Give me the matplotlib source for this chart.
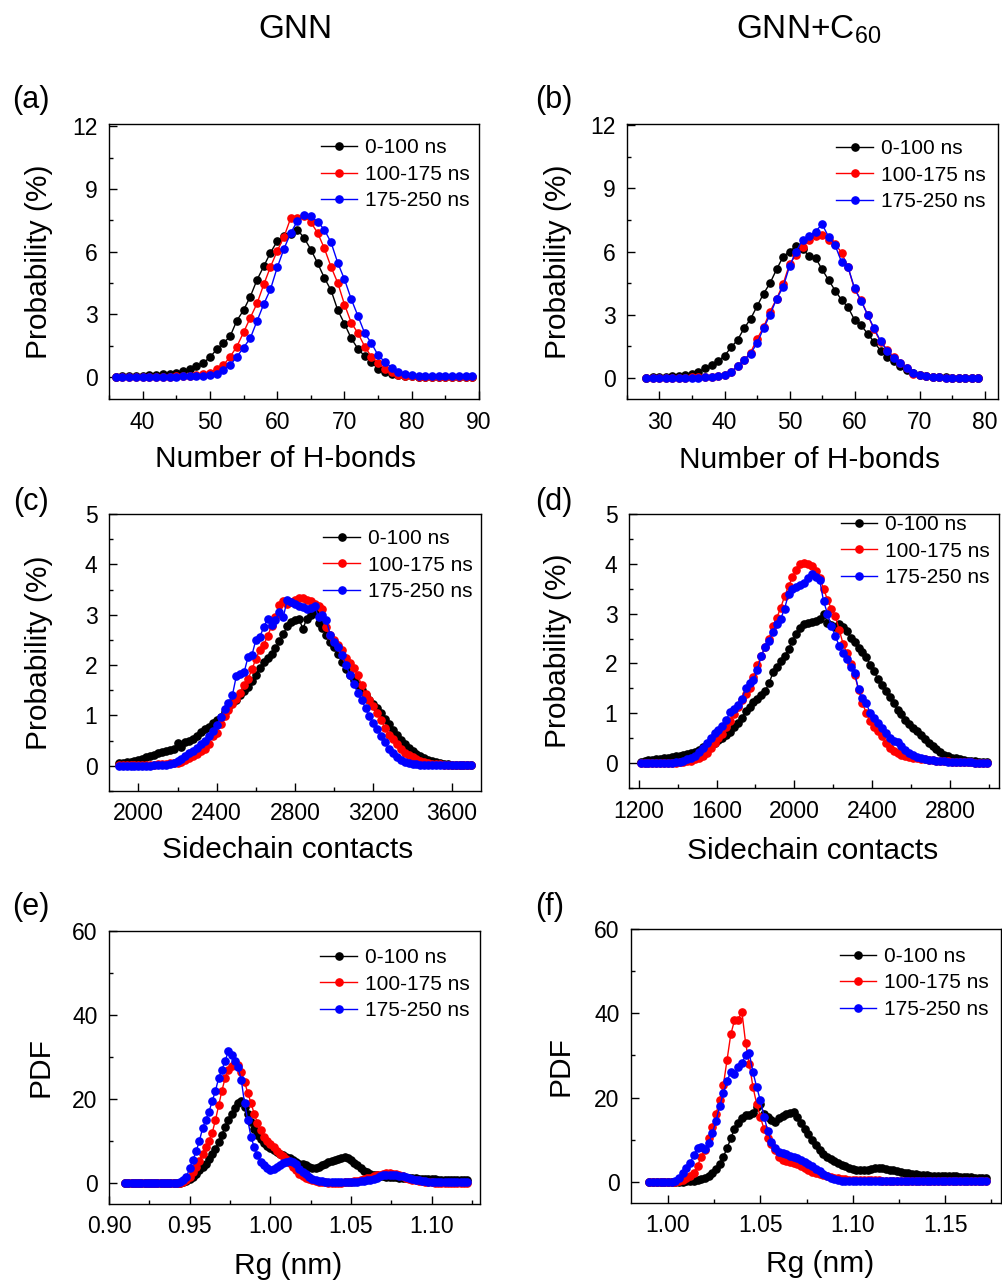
import numpy as np
import matplotlib
matplotlib.use("Agg")
import matplotlib.pyplot as plt
from matplotlib.ticker import MultipleLocator

plt.rcParams['font.family'] = ['Liberation Sans', 'DejaVu Sans']
plt.rcParams['mathtext.fontset'] = 'custom'
plt.rcParams['mathtext.rm'] = 'Liberation Sans'
plt.rcParams['mathtext.it'] = 'Liberation Sans:italic'

labels = ['0-100 ns', '100-175 ns', '175-250 ns']
colors = ['black', 'red', 'blue']

# (a) H-bonds, GNN  (x = 36 ... 89, step 1)
hb_gnn_start, hb_gnn_step = 36, 1
hb_gnn_0_100 = [0.02, 0.03, 0.04, 0.05, 0.06, 0.08, 0.1, 0.13, 0.16, 0.21,
                0.28, 0.39, 0.52, 0.68, 0.94, 1.33, 1.62, 1.95, 2.7, 3.2,
                3.85, 4.65, 5.3, 5.95, 6.5, 6.75, 6.85, 7.05, 6.65, 6.1,
                5.45, 4.75, 4.15, 3.2, 2.55, 1.85, 1.35, 1.0, 0.7, 0.4,
                0.25, 0.15, 0.08, 0.05, 0.03, 0.02, 0.02, 0.01, 0.01, 0.01,
                0.01, 0.01, 0.01, 0.01]
hb_gnn_100_175 = [0.01, 0.01, 0.01, 0.01, 0.01, 0.01, 0.02, 0.02, 0.02, 0.03,
                  0.04, 0.05, 0.1, 0.15, 0.2, 0.4, 0.57, 0.97, 1.46, 2.14,
                  2.84, 3.52, 4.43, 5.27, 6.03, 6.7, 7.6, 7.62, 7.7, 7.4,
                  6.9, 6.16, 5.27, 4.5, 3.47, 2.6, 2.1, 1.46, 0.97, 0.68,
                  0.4, 0.24, 0.11, 0.05, 0.03, 0.02, 0.01, 0.01, 0.01, 0.01,
                  0.01, 0.01, 0.01, 0.01]
hb_gnn_175_250 = [0.01, 0.01, 0.01, 0.01, 0.01, 0.01, 0.01, 0.01, 0.02, 0.02,
                  0.03, 0.04, 0.05, 0.06, 0.08, 0.16, 0.36, 0.57, 0.97, 1.41,
                  1.86, 2.68, 3.49, 4.2, 5.24, 6.13, 6.89, 7.46, 7.75, 7.7,
                  7.43, 7.05, 6.44, 5.46, 4.67, 3.73, 2.92, 2.1, 1.62, 1.04,
                  0.73, 0.45, 0.24, 0.13, 0.08, 0.06, 0.05, 0.05, 0.05, 0.05,
                  0.05, 0.05, 0.05, 0.05]

# (b) H-bonds, GNN+C60  (x = 28 ... 79, step 1)
hb_c60_start, hb_c60_step = 28, 1
hb_c60_0_100 = [0.02, 0.03, 0.04, 0.05, 0.07, 0.1, 0.12, 0.2, 0.3, 0.45,
                0.6, 0.8, 1.05, 1.45, 1.8, 2.35, 2.8, 3.4, 4.0, 4.5,
                5.15, 5.75, 6.0, 6.25, 6.1, 5.8, 5.7, 5.15, 4.65, 4.15,
                3.7, 3.35, 2.75, 2.5, 2.1, 1.7, 1.3, 1.0, 0.8, 0.55,
                0.4, 0.25, 0.15, 0.1, 0.06, 0.04, 0.03, 0.02, 0.01, 0.01,
                0.01, 0.01]
hb_c60_100_175 = [0.01, 0.01, 0.01, 0.01, 0.01, 0.02, 0.02, 0.03, 0.03, 0.04,
                  0.05, 0.08, 0.15, 0.3, 0.55, 0.85, 1.2, 1.85, 2.4, 3.15,
                  3.75, 4.45, 5.4, 5.85, 6.2, 6.55, 6.75, 6.8, 6.55, 6.35,
                  5.95, 5.25, 4.2, 3.7, 3.0, 2.3, 1.7, 1.35, 1.0, 0.7,
                  0.45, 0.2, 0.12, 0.08, 0.05, 0.03, 0.02, 0.02, 0.02, 0.02,
                  0.02, 0.02]
hb_c60_175_250 = [0.01, 0.01, 0.01, 0.01, 0.01, 0.01, 0.02, 0.02, 0.02, 0.03,
                  0.04, 0.07, 0.15, 0.3, 0.55, 0.85, 1.15, 1.65, 2.35, 3.0,
                  3.75, 4.3, 5.3, 6.0, 6.55, 6.75, 6.95, 7.3, 6.7, 6.3,
                  5.5, 5.25, 4.25, 3.65, 3.0, 2.35, 1.75, 1.3, 0.95, 0.7,
                  0.45, 0.25, 0.15, 0.1, 0.06, 0.04, 0.02, 0.02, 0.02, 0.02,
                  0.02, 0.02]

# (c) sidechain contacts, GNN  (x = 1900 ... 3700, step 20)
sc_gnn_start, sc_gnn_step = 1900, 20
sc_gnn_0_100 = [0.05, 0.06, 0.07, 0.08, 0.09, 0.12, 0.14, 0.17, 0.19, 0.22,
                0.25, 0.27, 0.3, 0.32, 0.34, 0.45, 0.38, 0.48, 0.5, 0.53,
                0.6, 0.68, 0.73, 0.78, 0.85, 0.9, 0.97, 1.07, 1.17, 1.24,
                1.3, 1.4, 1.48, 1.57, 1.68, 1.8, 1.95, 2.06, 2.14, 2.22,
                2.33, 2.47, 2.62, 2.77, 2.86, 2.9, 2.92, 2.72, 2.92, 2.99,
                3.03, 2.83, 2.73, 2.6, 2.45, 2.35, 2.22, 2.06, 1.93, 1.8,
                1.7, 1.6, 1.5, 1.4, 1.3, 1.22, 1.14, 1.04, 0.92, 0.82,
                0.72, 0.62, 0.52, 0.44, 0.36, 0.29, 0.24, 0.19, 0.15, 0.12,
                0.09, 0.07, 0.05, 0.04, 0.03, 0.02, 0.02, 0.01, 0.01, 0.01,
                0.01]
sc_gnn_100_175 = [0.01, 0.01, 0.01, 0.01, 0.01, 0.01, 0.01, 0.01, 0.02, 0.02,
                  0.03, 0.03, 0.04, 0.05, 0.05, 0.06, 0.08, 0.12, 0.15, 0.2,
                  0.24, 0.29, 0.33, 0.43, 0.6, 0.66, 0.83, 0.98, 1.1, 1.22,
                  1.33, 1.45, 1.6, 1.72, 1.92, 2.12, 2.3, 2.4, 2.58, 2.77,
                  2.95, 3.19, 3.27, 3.22, 3.25, 3.3, 3.34, 3.33, 3.3, 3.27,
                  3.22, 3.17, 3.12, 2.75, 2.6, 2.5, 2.4, 2.3, 2.15, 2.05,
                  1.95, 1.8, 1.6, 1.42, 1.3, 1.18, 1.05, 0.9, 0.75, 0.62,
                  0.53, 0.43, 0.34, 0.26, 0.21, 0.17, 0.13, 0.1, 0.07, 0.06,
                  0.04, 0.03, 0.03, 0.02, 0.02, 0.02, 0.01, 0.01, 0.01, 0.01,
                  0.01]
sc_gnn_175_250 = [0.0, 0.0, 0.0, 0.0, 0.0, 0.0, 0.0, 0.0, 0.0, 0.01,
                  0.01, 0.01, 0.02, 0.03, 0.05, 0.09, 0.14, 0.2, 0.25, 0.3,
                  0.36, 0.43, 0.5, 0.6, 0.7, 0.8, 0.97, 1.12, 1.25, 1.4,
                  1.78, 1.82, 1.86, 2.16, 2.2, 2.5, 2.56, 2.75, 2.92, 2.8,
                  2.9, 3.05, 2.95, 3.3, 3.25, 3.22, 3.18, 3.15, 3.12, 3.14,
                  3.17, 2.95, 3.0, 2.89, 2.6, 2.45, 2.35, 2.2, 2.0, 1.8,
                  1.62, 1.45, 1.3, 1.15, 0.98, 0.85, 0.73, 0.6, 0.47, 0.34,
                  0.25, 0.17, 0.12, 0.08, 0.06, 0.04, 0.03, 0.02, 0.01, 0.01,
                  0.01, 0.01, 0.01, 0.01, 0.01, 0.01, 0.01, 0.01, 0.01, 0.01,
                  0.01]

# (d) sidechain contacts, GNN+C60  (x = 1210 ... 2990, step 20)
sc_c60_start, sc_c60_step = 1210, 20
sc_c60_0_100 = [0.02, 0.04, 0.06, 0.07, 0.08, 0.09, 0.1, 0.11, 0.13, 0.14,
                0.15, 0.17, 0.18, 0.2, 0.22, 0.27, 0.32, 0.36, 0.38, 0.41,
                0.46, 0.51, 0.57, 0.62, 0.72, 0.8, 0.9, 1.05, 1.13, 1.22,
                1.29, 1.37, 1.45, 1.6, 1.82, 1.92, 2.05, 2.15, 2.28, 2.45,
                2.6, 2.72, 2.8, 2.82, 2.83, 2.85, 2.9, 3.0, 2.82, 2.77,
                2.74, 2.8, 2.74, 2.65, 2.52, 2.43, 2.32, 2.23, 2.13, 1.97,
                1.84, 1.68, 1.57, 1.45, 1.32, 1.2, 1.07, 0.99, 0.87, 0.79,
                0.71, 0.64, 0.56, 0.48, 0.41, 0.34, 0.28, 0.22, 0.17, 0.14,
                0.11, 0.1, 0.09, 0.06, 0.05, 0.04, 0.04, 0.03, 0.02, 0.02]
sc_c60_100_175 = [0.01, 0.01, 0.01, 0.01, 0.01, 0.01, 0.01, 0.01, 0.01, 0.01,
                  0.02, 0.02, 0.04, 0.05, 0.08, 0.11, 0.15, 0.2, 0.31, 0.41,
                  0.51, 0.59, 0.72, 0.85, 0.99, 1.13, 1.26, 1.38, 1.5, 1.73,
                  1.97, 2.15, 2.33, 2.5, 2.76, 2.92, 3.12, 3.35, 3.55, 3.73,
                  3.88, 3.99, 4.01, 3.99, 3.95, 3.86, 3.72, 3.5, 3.28, 3.1,
                  2.95, 2.68, 2.4, 2.2, 1.98, 1.77, 1.47, 1.2, 1.0, 0.84,
                  0.73, 0.64, 0.54, 0.4, 0.31, 0.25, 0.21, 0.17, 0.15, 0.13,
                  0.11, 0.1, 0.09, 0.08, 0.07, 0.06, 0.05, 0.05, 0.04, 0.04,
                  0.03, 0.03, 0.03, 0.02, 0.02, 0.02, 0.01, 0.01, 0.01, 0.01]
sc_c60_175_250 = [0.01, 0.01, 0.01, 0.01, 0.01, 0.01, 0.01, 0.01, 0.01, 0.02,
                  0.03, 0.05, 0.08, 0.11, 0.15, 0.22, 0.31, 0.41, 0.51, 0.6,
                  0.66, 0.74, 0.87, 1.02, 1.08, 1.17, 1.28, 1.5, 1.6, 1.66,
                  1.87, 2.15, 2.34, 2.45, 2.63, 2.8, 2.9, 3.1, 3.4, 3.5,
                  3.53, 3.57, 3.62, 3.72, 3.8, 3.73, 3.68, 3.25, 3.0, 2.75,
                  2.55, 2.36, 2.2, 2.08, 1.93, 1.8, 1.48, 1.3, 1.2, 1.0,
                  0.9, 0.8, 0.7, 0.6, 0.5, 0.45, 0.42, 0.34, 0.27, 0.2,
                  0.16, 0.13, 0.11, 0.09, 0.07, 0.06, 0.05, 0.05, 0.04, 0.03,
                  0.03, 0.03, 0.02, 0.02, 0.02, 0.02, 0.01, 0.01, 0.01, 0.01]

# (e) Rg, GNN  (x = 0.910 ... 1.122, step 0.002)
rg_gnn_start, rg_gnn_step = 0.910, 0.002
rg_gnn_0_100 = [0, 0, 0, 0, 0, 0, 0, 0, 0, 0,
                0, 0, 0, 0, 0, 0, 0, 0, 0.2, 0.5,
                0.9, 1.5, 2.2, 3.0, 3.8, 4.6, 5.6, 6.8, 8.2, 9.8,
                11.5, 13.3, 15.0, 16.5, 17.8, 19.0, 19.5, 18.0, 16.5, 14.5,
                12.8, 11.5, 10.5, 9.6, 8.9, 8.3, 7.8, 7.4, 7.0, 6.6,
                6.3, 5.9, 5.4, 5.0, 4.6, 4.4, 4.2, 3.9, 3.6, 3.6,
                3.9, 4.3, 4.6, 5.0, 5.3, 5.4, 5.8, 6.0, 6.1, 6.0,
                5.4, 4.8, 4.2, 3.5, 2.9, 2.5, 2.2, 2.0, 1.8, 1.7,
                1.6, 1.5, 1.5, 1.4, 1.4, 1.3, 1.3, 1.2, 1.2, 1.1,
                1.1, 1.0, 1.0, 1.0, 0.9, 0.9, 0.9, 0.8, 0.8, 0.8,
                0.8, 0.7, 0.7, 0.7, 0.7, 0.6, 0.6]
rg_gnn_100_175 = [0, 0, 0, 0, 0, 0, 0, 0, 0, 0,
                  0, 0, 0, 0, 0, 0, 0, 0, 0.3, 0.8,
                  1.5, 2.5, 3.8, 5.3, 7.0, 8.5, 10.0, 12.0, 15.0, 18.5,
                  22.0, 25.0, 27.0, 27.8, 28.3, 28.0, 26.5, 24.0, 21.5, 19.0,
                  16.5, 14.3, 12.5, 11.0, 10.0, 9.2, 8.5, 7.7, 7.0, 6.4,
                  5.8, 4.8, 3.8, 3.0, 2.2, 1.7, 1.3, 0.9, 0.6, 0.4,
                  0.3, 0.2, 0.2, 0.1, 0.1, 0.1, 0.1, 0.1, 0.2, 0.2,
                  0.3, 0.4, 0.5, 0.7, 0.9, 1.1, 1.3, 1.6, 1.8, 2.0,
                  2.2, 2.3, 2.3, 2.2, 2.1, 1.9, 1.6, 1.3, 1.0, 0.8,
                  0.6, 0.5, 0.4, 0.3, 0.2, 0.2, 0.1, 0.1, 0.1, 0.1,
                  0.1, 0.1, 0.1, 0.1, 0.1, 0.1, 0.1]
rg_gnn_175_250 = [0, 0, 0, 0, 0, 0, 0, 0, 0, 0,
                  0, 0, 0, 0, 0, 0, 0, 0.3, 0.8, 1.4,
                  3.6, 5.5, 7.5, 10.0, 13.0, 15.0, 17.0, 19.5, 22.0, 25.0,
                  27.0, 29.0, 31.5, 30.5, 29.0, 27.5, 24.5, 19.0, 15.0, 11.0,
                  8.5, 6.6, 5.0, 4.2, 3.6, 3.2, 3.3, 3.7, 4.2, 4.8,
                  5.1, 5.2, 5.0, 4.4, 3.4, 2.7, 2.1, 1.5, 1.0, 0.7,
                  0.5, 0.4, 0.3, 0.2, 0.2, 0.2, 0.2, 0.2, 0.2, 0.2,
                  0.2, 0.3, 0.3, 0.4, 0.5, 0.6, 0.8, 1.0, 1.3, 1.6,
                  1.8, 1.9, 1.9, 1.9, 1.8, 1.7, 1.6, 1.4, 1.2, 1.0,
                  0.8, 0.6, 0.5, 0.4, 0.3, 0.3, 0.2, 0.2, 0.2, 0.2,
                  0.2, 0.2, 0.2, 0.2, 0.2, 0.2, 0.2]

# (f) Rg, GNN+C60  (x = 0.990 ... 1.172, step 0.002)
rg_c60_start, rg_c60_step = 0.990, 0.002
rg_c60_0_100 = [0, 0, 0, 0, 0, 0, 0, 0, 0, 0,
                0.1, 0.2, 0.3, 0.5, 0.7, 1.0, 1.5, 2.2, 3.0, 4.3,
                6.0, 8.0, 10.3, 12.6, 14.0, 15.2, 15.8, 15.8, 16.4, 17.8,
                18.5, 16.0, 15.3, 14.6, 14.3, 15.2, 15.6, 16.0, 16.3, 16.6,
                15.5, 14.0, 12.6, 11.4, 10.0, 8.7, 7.6, 6.7, 6.0, 5.4,
                4.9, 4.5, 4.1, 3.7, 3.3, 3.0, 2.8, 2.7, 2.7, 2.9,
                3.1, 3.3, 3.3, 3.2, 3.0, 2.8, 2.7, 2.5, 2.3, 2.1,
                2.0, 1.9, 1.8, 1.7, 1.6, 1.6, 1.5, 1.5, 1.5, 1.4,
                1.4, 1.3, 1.3, 1.3, 1.2, 1.2, 1.1, 1.1, 1.0, 1.0,
                0.9, 0.8]
rg_c60_100_175 = [0, 0, 0, 0, 0, 0, 0, 0, 0.2, 0.4,
                  0.9, 1.5, 2.2, 3.8, 6.0, 7.5, 10.3, 13.0, 16.0, 19.5,
                  23.0, 29.0, 35.0, 38.3, 38.5, 40.4, 33.0, 28.0, 22.5, 18.5,
                  15.4, 12.5, 10.5, 9.0, 7.5, 6.0, 5.2, 4.9, 4.7, 4.5,
                  4.2, 3.8, 3.3, 2.9, 2.4, 2.0, 1.8, 1.6, 1.4, 1.2,
                  1.0, 0.8, 0.7, 0.6, 0.5, 0.5, 0.5, 0.4, 0.4, 0.4,
                  0.4, 0.4, 0.4, 0.3, 0.3, 0.3, 0.3, 0.3, 0.3, 0.3,
                  0.3, 0.3, 0.3, 0.3, 0.3, 0.3, 0.3, 0.3, 0.3, 0.3,
                  0.3, 0.3, 0.3, 0.3, 0.2, 0.2, 0.2, 0.2, 0.2, 0.2,
                  0.2, 0.2]
rg_c60_175_250 = [0, 0, 0, 0, 0, 0, 0, 0.3, 0.8, 2.0,
                  3.2, 4.5, 6.3, 8.0, 8.3, 7.9, 9.2, 11.5, 14.5, 18.0,
                  21.0, 24.0, 26.0, 25.7, 27.2, 28.2, 30.0, 30.5, 26.0, 22.5,
                  19.3, 15.5, 12.0, 9.5, 8.0, 7.1, 6.8, 6.5, 6.1, 5.9,
                  5.6, 5.3, 4.8, 4.3, 3.8, 3.1, 2.5, 1.9, 1.3, 0.9,
                  0.6, 0.4, 0.3, 0.2, 0.2, 0.2, 0.2, 0.2, 0.2, 0.2,
                  0.2, 0.2, 0.2, 0.2, 0.2, 0.2, 0.2, 0.2, 0.2, 0.2,
                  0.1, 0.1, 0.1, 0.1, 0.1, 0.1, 0.1, 0.1, 0.1, 0.1,
                  0.1, 0.1, 0.1, 0.1, 0.1, 0.1, 0.1, 0.1, 0.1, 0.1,
                  0.1, 0.1]


def draw_panel(ax, start, step, series, xlim, ylim, xmajor, ymajor,
               xlabel, ylabel, xfmt, legend_anchor, xlabel_xy, ylabel_x):
    for ys, color, label in zip(series, colors, labels):
        xs = start + step * np.arange(len(ys))
        ax.plot(xs, ys, '-o', color=color, lw=1.0, ms=5.2, label=label)

    ax.set_xlim(*xlim)
    ax.set_ylim(*ylim)
    ax.xaxis.set_major_locator(MultipleLocator(xmajor))
    ax.xaxis.set_minor_locator(MultipleLocator(xmajor / 2))
    ax.yaxis.set_major_locator(MultipleLocator(ymajor))
    ax.yaxis.set_minor_locator(MultipleLocator(ymajor / 2))
    ax.xaxis.set_major_formatter(plt.FormatStrFormatter(xfmt))

    ax.tick_params(which='both', direction='in', top=False, right=False,
                   labelsize=16.5, width=1.0)
    ax.tick_params(which='major', length=5.5, pad=8.3)
    ax.tick_params(which='minor', length=3)
    for s in ax.spines.values():
        s.set_linewidth(1.0)

    ax.set_xlabel(xlabel, fontsize=21.5)
    ax.set_ylabel(ylabel, fontsize=21.5)
    ax.xaxis.set_label_coords(*xlabel_xy)
    ax.yaxis.set_label_coords(ylabel_x, 0.5)

    ax.legend(loc='upper right', bbox_to_anchor=legend_anchor, frameon=False,
              fontsize=15, handlelength=1.75, handletextpad=0.4,
              labelspacing=0.36, borderaxespad=0, borderpad=0)


def main():
    fig = plt.figure(figsize=(10.02, 12.83), dpi=100)

    ax_a = fig.add_axes([0.1088, 0.689, 0.3693, 0.2143])
    ax_b = fig.add_axes([0.6257, 0.689, 0.3700, 0.2143])
    ax_c = fig.add_axes([0.1088, 0.3835, 0.3713, 0.2159])
    ax_d = fig.add_axes([0.6277, 0.3858, 0.3690, 0.2136])
    ax_e = fig.add_axes([0.1088, 0.0616, 0.3703, 0.2128])
    ax_f = fig.add_axes([0.6297, 0.0624, 0.3690, 0.2136])

    draw_panel(ax_a, hb_gnn_start, hb_gnn_step,
               [hb_gnn_0_100, hb_gnn_100_175, hb_gnn_175_250],
               (35, 90), (-1.05, 12.1), 10, 3,
               'Number of H-bonds', 'Probability (%)', '%d', (0.976, 0.948),
               (0.478, -0.167), -0.151)
    draw_panel(ax_b, hb_c60_start, hb_c60_step,
               [hb_c60_0_100, hb_c60_100_175, hb_c60_175_250],
               (25, 82), (-1.0, 12.05), 10, 3,
               'Number of H-bonds', 'Probability (%)', '%d', (0.968, 0.945),
               (0.492, -0.171), -0.148)
    draw_panel(ax_c, sc_gnn_start, sc_gnn_step,
               [sc_gnn_0_100, sc_gnn_100_175, sc_gnn_175_250],
               (1850, 3750), (-0.5, 5), 400, 1,
               'Sidechain contacts', 'Probability (%)', '%d', (0.978, 0.945),
               (0.48, -0.162), -0.151)
    draw_panel(ax_d, sc_c60_start, sc_c60_step,
               [sc_c60_0_100, sc_c60_100_175, sc_c60_175_250],
               (1150, 3050), (-0.5, 5), 400, 1,
               'Sidechain contacts', 'Probability (%)', '%d', (0.977, 0.996),
               (0.497, -0.178), -0.154)
    draw_panel(ax_e, rg_gnn_start, rg_gnn_step,
               [rg_gnn_0_100, rg_gnn_100_175, rg_gnn_175_250],
               (0.90, 1.13), (-5, 60), 0.05, 20,
               'Rg (nm)', 'PDF', '%.2f', (0.973, 0.937),
               (0.482, -0.176), -0.148)
    draw_panel(ax_f, rg_c60_start, rg_c60_step,
               [rg_c60_0_100, rg_c60_100_175, rg_c60_175_250],
               (0.98, 1.18), (-5, 60), 0.05, 20,
               'Rg (nm)', 'PDF', '%.2f', (0.969, 0.934),
               (0.512, -0.172), -0.154)

    # column titles
    fig.text(0.295, 0.977, 'GNN', fontsize=24, ha='center', va='center')
    fig.text(0.807, 0.977, r'GNN+C$_{\mathrm{60}}$', fontsize=24,
             ha='center', va='center')

    # panel letters
    for letter, x, y in [('(a)', 31, 100), ('(b)', 554, 100),
                         ('(c)', 31, 502), ('(d)', 554, 502),
                         ('(e)', 31, 907), ('(f)', 550, 907)]:
        fig.text(x / 1002, 1 - y / 1283, letter, fontsize=22,
                 ha='center', va='center')

    fig.savefig('out.png', dpi=100)


if __name__ == "__main__":
    main()
